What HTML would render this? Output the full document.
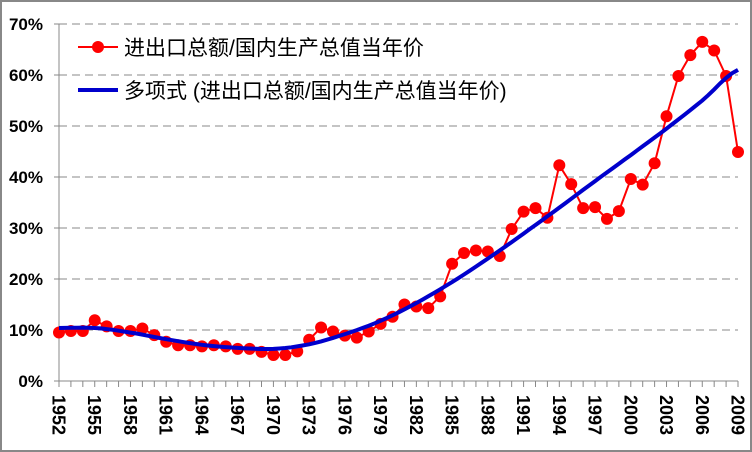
<!DOCTYPE html>
<html><head><meta charset="utf-8"><style>
html,body{margin:0;padding:0;background:#fff}
svg{display:block}
text{font-family:"Liberation Sans","Noto Sans CJK SC",sans-serif}
</style></head><body>
<svg id="s" width="752" height="452" xmlns="http://www.w3.org/2000/svg">
<rect x="1" y="1" width="750" height="450" fill="#fff" stroke="#888" stroke-width="2"/>
<g stroke="#888" stroke-width="1" stroke-dasharray="8,5">
<line x1="59" x2="738" y1="330" y2="330"/><line x1="59" x2="738" y1="279" y2="279"/>
<line x1="59" x2="738" y1="228" y2="228"/><line x1="59" x2="738" y1="177" y2="177"/>
<line x1="59" x2="738" y1="126" y2="126"/><line x1="59" x2="738" y1="75" y2="75"/>
<line x1="59" x2="738" y1="24" y2="24"/>
</g>
<line x1="59" x2="59" y1="24" y2="381" stroke="#888"/>
<line x1="54" x2="738" y1="381" y2="381" stroke="#888"/>
<g stroke="#888" id="yt">
<line x1="54" x2="59" y1="330" y2="330"/><line x1="54" x2="59" y1="279" y2="279"/><line x1="54" x2="59" y1="228" y2="228"/><line x1="54" x2="59" y1="177" y2="177"/><line x1="54" x2="59" y1="126" y2="126"/><line x1="54" x2="59" y1="75" y2="75"/><line x1="54" x2="59" y1="24" y2="24"/>
</g>
<g id="xt" stroke="#888"></g>
<g font-size="17" font-weight="bold" text-anchor="end" fill="#000">
<text x="43" y="387">0%</text><text x="43" y="336">10%</text><text x="43" y="285">20%</text><text x="43" y="234">30%</text><text x="43" y="183">40%</text><text x="43" y="132">50%</text><text x="43" y="81">60%</text><text x="43" y="30">70%</text>
</g>
<g font-size="18" font-weight="bold" fill="#000">
<text transform="translate(52.5,395) rotate(90)">1952</text>
<text transform="translate(88.2,395) rotate(90)">1955</text>
<text transform="translate(124,395) rotate(90)">1958</text>
<text transform="translate(159.7,395) rotate(90)">1961</text>
<text transform="translate(195.5,395) rotate(90)">1964</text>
<text transform="translate(231.2,395) rotate(90)">1967</text>
<text transform="translate(267,395) rotate(90)">1970</text>
<text transform="translate(302.7,395) rotate(90)">1973</text>
<text transform="translate(338.5,395) rotate(90)">1976</text>
<text transform="translate(374.2,395) rotate(90)">1979</text>
<text transform="translate(410,395) rotate(90)">1982</text>
<text transform="translate(445.7,395) rotate(90)">1985</text>
<text transform="translate(481.5,395) rotate(90)">1988</text>
<text transform="translate(517.2,395) rotate(90)">1991</text>
<text transform="translate(553,395) rotate(90)">1994</text>
<text transform="translate(588.7,395) rotate(90)">1997</text>
<text transform="translate(624.5,395) rotate(90)">2000</text>
<text transform="translate(660.2,395) rotate(90)">2003</text>
<text transform="translate(696,395) rotate(90)">2006</text>
<text transform="translate(731.7,395) rotate(90)">2009</text>
</g>
<g id="red"></g>
<polyline id="blue" fill="none" stroke="#0000cc" stroke-width="4"/>
<line x1="78" x2="118" y1="47" y2="47" stroke="#f00" stroke-width="2"/>
<circle cx="98" cy="47" r="6" fill="#f00"/>
<text x="124" y="55" font-size="21" fill="#000">进出口总额/国内生产总值当年价</text>
<line x1="78" x2="118" y1="90" y2="90" stroke="#0000cc" stroke-width="4"/>
<text x="124" y="98" font-size="21" fill="#000">多项式 (进出口总额/国内生产总值当年价)</text>
</svg>
<script>
var d=[9.5,9.8,9.8,11.9,10.7,9.8,9.8,10.3,9.0,7.7,7.0,7.0,6.8,7.0,6.8,6.3,6.3,5.7,5.1,5.1,5.8,8.1,10.5,9.7,8.9,8.5,9.7,11.2,12.6,15.0,14.6,14.3,16.6,23.0,25.1,25.6,25.4,24.5,29.8,33.2,33.9,32.0,42.3,38.6,33.9,34.1,31.8,33.3,39.6,38.5,42.7,51.9,59.8,63.9,66.5,64.8,59.8,44.9];
var X=function(i){return 59+i*679/57},Y=function(v){return 381-5.1*v};
var ns="http://www.w3.org/2000/svg",g=document.getElementById('red'),pts=[];
for(var i=0;i<d.length;i++)pts.push(X(i).toFixed(1)+","+Y(d[i]).toFixed(1));
var pl=document.createElementNS(ns,'polyline');pl.setAttribute('points',pts.join(' '));pl.setAttribute('fill','none');pl.setAttribute('stroke','#f00');pl.setAttribute('stroke-width','2');g.appendChild(pl);
for(i=0;i<d.length;i++){var c=document.createElementNS(ns,'circle');c.setAttribute('cx',X(i));c.setAttribute('cy',Y(d[i]));c.setAttribute('r',6);c.setAttribute('fill','#f00');g.appendChild(c);}
var xt=document.getElementById('xt');
for(i=0;i<=57;i++){var l=document.createElementNS(ns,'line');l.setAttribute('x1',X(i));l.setAttribute('x2',X(i));l.setAttribute('y1',381);l.setAttribute('y2',387);xt.appendChild(l);}
var k=[0,3,6,9,12,15,18,21,24,27,30,33,36,39,42,45,48,51,54,57],t=[10.4,10.4,9.5,8.2,7.1,6.5,6.3,7.2,9.2,11.8,15.3,19.4,24,28.9,34,39.2,44.3,49.5,55,61];
var bp=[];
for(var s=0;s<=57;s+=0.5){var j=Math.min(Math.floor(s/3),18),f=(s-k[j])/3;
var p0=t[Math.max(j-1,0)],p1=t[j],p2=t[j+1],p3=t[Math.min(j+2,19)];
var v=0.5*((2*p1)+(-p0+p2)*f+(2*p0-5*p1+4*p2-p3)*f*f+(-p0+3*p1-3*p2+p3)*f*f*f);
bp.push(X(s).toFixed(1)+","+Y(v).toFixed(1));}
document.getElementById('blue').setAttribute('points',bp.join(' '));
</script>
</body></html>
